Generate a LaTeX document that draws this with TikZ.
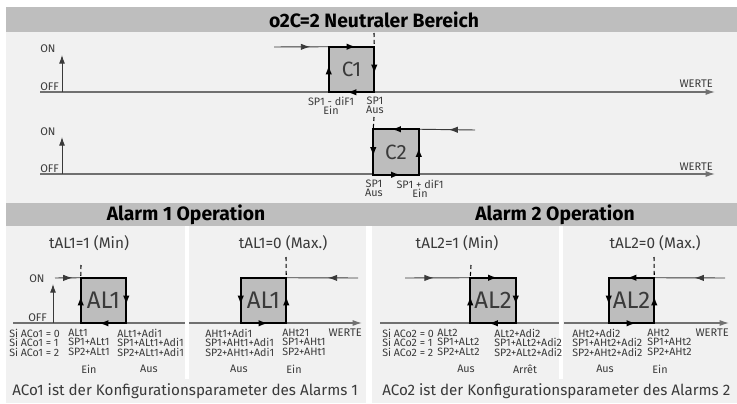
\documentclass[tikz,border=0pt]{standalone}
\usepackage{fontspec}
\setmainfont{Fira Sans}
\usetikzlibrary{arrows.meta,positioning,decorations.markings}

\definecolor{bargray}{HTML}{BEBEBE}
\definecolor{panelgray}{HTML}{F1F1F1}
\definecolor{boxgray}{HTML}{BDBDBD}
\definecolor{ink}{HTML}{3A3A3A}
\definecolor{axisgray}{HTML}{707070}

\begin{document}
\begin{tikzpicture}[x=0.75pt, y=-0.75pt,
    hyst/.style={fill=boxgray, minimum width=33.75pt, minimum height=33.75pt, inner sep=0pt, text=ink, font=\fontsize{15.5}{15.5}\selectfont},
    albox/.style={hyst, font=\fontsize{18}{18}\selectfont},
    rim/.style={line width=1.4pt, line cap=rect},
    flow/.style={postaction={decorate}, decoration={markings, mark=at position #1 with {\arrow{Latex[length=7pt,width=4.8pt]}}}},
    flow/.default=0.6,
    feed/.style={line width=0.7pt, ink},
    axis/.style={line width=0.9pt, axisgray},
    riser/.style={line width=0.7pt, ink, -{Latex[length=6.5pt,width=4.5pt]}},
    guide/.style={line width=0.8pt, dash pattern=on 3pt off 2.2pt},
    head/.style={font=\bfseries\fontsize{14.5}{15}\selectfont},
    sub/.style={font=\fontsize{11.5}{11.5}\selectfont, text=ink},
    tick/.style={font=\fontsize{8.3}{8.3}\selectfont, text=ink, inner sep=0pt},
    lbl/.style={font=\fontsize{8.1}{7}\selectfont, text=ink, align=center, inner sep=0pt},
    rows/.style={font=\fontsize{8}{7.1}\selectfont, text=ink, align=left, inner sep=0pt, anchor=north west},
    note/.style={font=\fontsize{11.4}{12}\selectfont, text=ink, inner sep=0pt, anchor=west}
  ]
    \useasboundingbox (0,0) rectangle (737,403);
    % backgrounds
    \fill[white] (0,0) rectangle (737,403);
    \fill[bargray] (6,7) rectangle (737,32);
    \fill[panelgray] (6,32) rectangle (737,203);
    \fill[bargray] (6,203) rectangle (737,226);
    \fill[panelgray] (6,226) rectangle (366,403);
    \fill[panelgray] (372,226) rectangle (737,403);
    \fill[white] (185,226) rectangle (189,379);
    \fill[white] (559,226) rectangle (563,379);

    \node[head] (top) at (374,20) {o2C=2 Neutraler Bereich};
    \node[head] (bar1) at (186,214.5) {Alarm 1 Operation};
    \node[head] (bar2) at (555,214.5) {Alarm 2 Operation};

    % C1
    \coordinate (x1a) at (40,92);
    \coordinate (x1b) at (715,92);
    \coordinate (y1a) at (62,92);
    \coordinate (y1b) at (62,55);
    \draw[axis, -{Latex[length=7pt,width=4.5pt]}] (x1a) -- (x1b);
    \draw[riser] (y1a) -- (y1b);
    \node[tick, anchor=base west] (on1) at (40,52) {ON};
    \node[tick, anchor=base west] (off1) at (40,90) {OFF};
    \node[tick, anchor=base east] (w1) at (713,87) {WERTE};
    \node[hyst] (c1) at (351.5,69.5) {C1};
    \coordinate (in1) at (274,47);
    \coordinate (g1) at (374,33);
    \draw[feed, flow=0.66] (in1) -- (c1.north west);
    \draw[guide] (g1) -- (c1.north east);
    \draw[rim, flow] (c1.south west) -- (c1.north west);
    \draw[rim, flow] (c1.north west) -- (c1.north east);
    \draw[rim, flow] (c1.north east) -- (c1.south east);
    \draw[rim, flow] (c1.south east) -- (c1.south west);
    \node[lbl] (c1on) at (331,105.5) {SP1 - diF1\\Ein};
    \node[lbl] (c1off) at (375,105.5) {SP1\\Aus};

    % C2
    \coordinate (x2a) at (40,174);
    \coordinate (x2b) at (715,174);
    \coordinate (y2a) at (62,174);
    \coordinate (y2b) at (62,137);
    \draw[axis, -{Latex[length=7pt,width=4.5pt]}] (x2a) -- (x2b);
    \draw[riser] (y2a) -- (y2b);
    \node[tick, anchor=base west] (on2) at (40,135) {ON};
    \node[tick, anchor=base west] (off2) at (40,172) {OFF};
    \node[tick, anchor=base east] (w2) at (713,170) {WERTE};
    \node[hyst] (c2) at (396,152) {C2};
    \coordinate (in2) at (475,130);
    \coordinate (g2) at (374,117);
    \draw[feed, flow=0.47] (in2) -- (c2.north east);
    \draw[guide] (g2) -- (c2.north west);
    \draw[rim, flow] (c2.north east) -- (c2.north west);
    \draw[rim, flow] (c2.north west) -- (c2.south west);
    \draw[rim, flow] (c2.south west) -- (c2.south east);
    \draw[rim, flow] (c2.south east) -- (c2.north east);
    \node[lbl] (c2off) at (374,188.5) {SP1\\Aus};
    \node[lbl] (c2on) at (420,188.5) {SP1 + diF1\\Ein};

    \node[sub] (t1) at (89,243) {tAL1=1 (Min)};
    \node[sub] (t2) at (283,243) {tAL1=0 (Max.)};
    \node[sub] (t3) at (457,243) {tAL2=1 (Min)};
    \node[sub] (t4) at (655,243) {tAL2=0 (Max.)};

    % AL1 min
    \coordinate (x3a) at (13,323);
    \coordinate (x3b) at (185,323);
    \coordinate (y3a) at (53,323);
    \coordinate (y3b) at (53,284);
    \draw[axis] (x3a) -- (x3b);
    \draw[riser] (y3a) -- (y3b);
    \node[tick, anchor=base west] (on3) at (29,282) {ON};
    \node[tick, anchor=base west] (off3) at (28,321) {OFF};
    \node[albox] (al1a) at (103.5,300.5) {AL1};
    \coordinate (in3) at (55,278);
    \coordinate (g3) at (81,265);
    \draw[feed, flow=0.68] (in3) -- (al1a.north west);
    \draw[guide] (g3) -- (al1a.north west);
    \draw[rim, flow] (al1a.south west) -- (al1a.north west);
    \draw[rim] (al1a.north west) -- (al1a.north east);
    \draw[rim, flow] (al1a.north east) -- (al1a.south east);
    \draw[rim, flow] (al1a.south east) -- (al1a.south west);
    \node[rows] (r3a) at (9,328.5) {Si ACo1 = 0\\Si ACo1 = 1\\Si ACo1 = 2};
    \node[rows] (r3b) at (68,328.5) {ALt1\\SP1+ALt1\\SP2+ALt1};
    \node[rows] (r3c) at (117,328.5) {ALt1+Adi1\\SP1+ALt1+Adi1\\SP2+ALt1+Adi1};
    \node[lbl] (e3a) at (89,369) {Ein};
    \node[lbl] (e3b) at (149,369) {Aus};

    % AL1 max
    \coordinate (x4a) at (189,323);
    \coordinate (x4b) at (362,323);
    \draw[axis, -{Latex[length=7pt,width=4.5pt]}] (x4a) -- (x4b);
    \node[tick, anchor=base east] (w4) at (362,336) {WERTE};
    \node[albox] (al1b) at (263.5,300.5) {AL1};
    \coordinate (in4) at (358,278);
    \coordinate (g4) at (286,257);
    \draw[feed, flow=0.42] (in4) -- (al1b.north east);
    \draw[guide] (g4) -- (al1b.north east);
    \draw[rim] (al1b.north east) -- (al1b.north west);
    \draw[rim, flow] (al1b.north west) -- (al1b.south west);
    \draw[rim, flow] (al1b.south west) -- (al1b.south east);
    \draw[rim, flow] (al1b.south east) -- (al1b.north east);
    \node[rows] (r4a) at (205,328.5) {AHt1+Adi1\\SP1+AHt1+Adi1\\SP2+AHt1+Adi1};
    \node[rows] (r4b) at (282,328.5) {AHt21\\SP1+AHt1\\SP2+AHt1};
    \node[lbl] (e4a) at (239,369) {Aus};
    \node[lbl] (e4b) at (294,369) {Ein};

    % AL2 min
    \coordinate (x5a) at (380,323);
    \coordinate (x5b) at (559,323);
    \draw[axis] (x5a) -- (x5b);
    \node[albox] (al2a) at (493,300.5) {AL2};
    \coordinate (in5) at (405,278);
    \coordinate (g5) at (471,265);
    \draw[feed, flow=0.44] (in5) -- (al2a.north west);
    \draw[guide] (g5) -- (al2a.north west);
    \draw[rim, flow] (al2a.north west) -- (al2a.north east);
    \draw[rim, flow] (al2a.north east) -- (al2a.south east);
    \draw[rim, flow] (al2a.south east) -- (al2a.south west);
    \draw[rim, flow] (al2a.south west) -- (al2a.north west);
    \node[rows] (r5a) at (382,328.5) {Si ACo2 = 0\\Si ACo2 = 1\\Si ACo2 = 2};
    \node[rows] (r5b) at (437,328.5) {ALt2\\SP1+ALt2\\SP2+ALt2};
    \node[rows] (r5c) at (494,328.5) {ALt2+Adi2\\SP1+ALt2+Adi2\\SP2+ALt2+Adi2};
    \node[lbl] (e5a) at (466,369) {Aus};
    \node[lbl] (e5b) at (525,369) {Arrêt};

    % AL2 max
    \coordinate (x6a) at (564,323);
    \coordinate (x6b) at (729,323);
    \draw[axis, -{Latex[length=7pt,width=4.5pt]}] (x6a) -- (x6b);
    \node[tick, anchor=base east] (w6) at (729,336) {WERTE};
    \node[albox] (al2b) at (631.5,300.5) {AL2};
    \coordinate (in6) at (725,278);
    \coordinate (g6) at (654,257);
    \draw[feed, flow=0.43] (in6) -- (al2b.north east);
    \draw[guide] (g6) -- (al2b.north east);
    \draw[rim, flow] (al2b.north east) -- (al2b.north west);
    \draw[rim, flow] (al2b.north west) -- (al2b.south west);
    \draw[rim, flow] (al2b.south west) -- (al2b.south east);
    \draw[rim, flow] (al2b.south east) -- (al2b.north east);
    \node[rows] (r6a) at (572,328.5) {AHt2+Adi2\\SP1+AHt2+Adi2\\SP2+AHt2+Adi2};
    \node[rows] (r6b) at (647,328.5) {AHt2\\SP1+AHt2\\SP2+AHt2};
    \node[lbl] (e6a) at (605,369) {Aus};
    \node[lbl] (e6b) at (660,369) {Ein};

    \node[note] (n1) at (12,391) {ACo1 ist der Konfigurationsparameter des Alarms 1};
    \node[note] (n2) at (382,391) {ACo2 ist der Konfigurationsparameter des Alarms 2};
\end{tikzpicture}
\end{document}
